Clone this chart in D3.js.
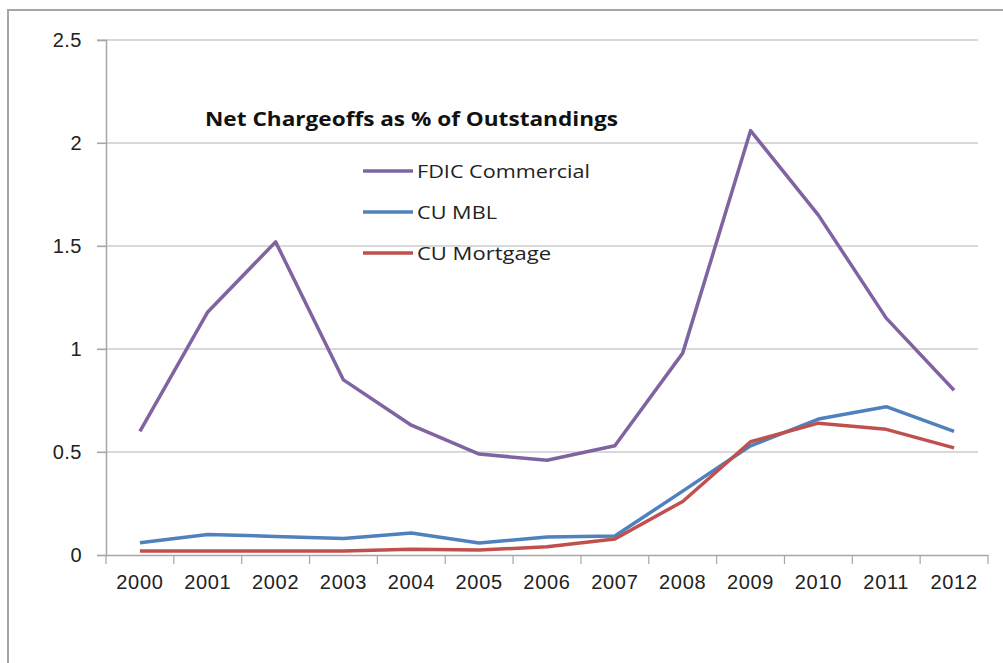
<!DOCTYPE html>
<html>
<head>
<meta charset="utf-8">
<script src="https://cdn.jsdelivr.net/npm/d3@7"></script>
<style>
  body { margin: 0; background: #fff; }
  svg { font-family: "Open Sans", Lato, sans-serif; }
</style>
</head>
<body>
<svg id="chart" width="1003" height="663"></svg>
<script>
// data
var years = ["2000", "2001", "2002", "2003", "2004", "2005", "2006", "2007", "2008", "2009", "2010", "2011", "2012"];
var fdicCommercial = [0.6, 1.18, 1.52, 0.85, 0.63, 0.49, 0.46, 0.53, 0.98, 2.06, 1.65, 1.15, 0.8];
var cuMbl = [0.06, 0.1, 0.09, 0.08, 0.107, 0.058, 0.087, 0.092, 0.31, 0.53, 0.66, 0.72, 0.6];
var cuMortgage = [0.02, 0.02, 0.02, 0.02, 0.028, 0.024, 0.04, 0.078, 0.26, 0.55, 0.64, 0.61, 0.52];
var yTicks = [0, 0.5, 1, 1.5, 2, 2.5];

var series = [
    {name: "FDIC Commercial", values: fdicCommercial, color: "#8064a2", width: 173},
    {name: "CU MBL", values: cuMbl, color: "#4f81bd", width: 80},
    {name: "CU Mortgage", values: cuMortgage, color: "#c0504d", width: 134}
];

var svg = d3.select("#chart");

// outer frame
svg.append("rect")
    .attr("x", 8).attr("y", 10)
    .attr("width", 1010).attr("height", 680)
    .attr("fill", "none")
    .attr("stroke", "#a6a6a6")
    .attr("stroke-width", 2);

var padding = {left: 106, right: 988, top: 40, bottom: 555};

var x = d3.scaleBand()
    .domain(years)
    .range([padding.left, padding.right]);
var y = d3.scaleLinear()
    .domain([0, 2.5])
    .range([padding.bottom, padding.top]);

// gridlines
svg.append("g")
    .selectAll("line")
    .data(yTicks.filter(function(d) { return d > 0; }))
    .enter().append("line")
    .attr("x1", padding.left - 9)
    .attr("x2", 978)
    .attr("y1", function(d) { return y(d); })
    .attr("y2", function(d) { return y(d); })
    .attr("stroke", "#b3b3b3")
    .attr("stroke-width", 1.2);

// y axis
var yAxis = svg.append("g")
    .attr("transform", "translate(" + padding.left + ",0)")
    .call(d3.axisLeft(y).tickValues(yTicks).tickSize(9).tickPadding(15)
        .tickFormat(function(d) { return d; }));
yAxis.select(".domain").attr("stroke", "#a6a6a6").attr("stroke-width", 1.5);
yAxis.selectAll(".tick line").attr("stroke", "#a6a6a6").attr("stroke-width", 1.2);
yAxis.selectAll("text")
    .attr("font-size", 20)
    .attr("letter-spacing", 0.5)
    .attr("fill", "#222");

// x axis
var xAxis = svg.append("g")
    .attr("transform", "translate(0," + padding.bottom + ")")
    .call(d3.axisBottom(x).tickSize(0).tickPadding(20));
xAxis.select(".domain").attr("stroke", "#a6a6a6").attr("stroke-width", 1.5);
xAxis.selectAll("text")
    .attr("font-size", 20)
    .attr("letter-spacing", 0.7)
    .attr("fill", "#222");

// category boundary ticks
var bounds = years.map(function(d) { return x(d); }).concat([padding.right]);
svg.append("g")
    .selectAll("line")
    .data(bounds)
    .enter().append("line")
    .attr("x1", function(d) { return d; })
    .attr("x2", function(d) { return d; })
    .attr("y1", padding.bottom)
    .attr("y2", padding.bottom + 9)
    .attr("stroke", "#a6a6a6")
    .attr("stroke-width", 1.2);

// lines
var line = d3.line()
    .x(function(d, i) { return x(years[i]) + x.bandwidth() / 2; })
    .y(function(d) { return y(d); });

svg.append("g")
    .selectAll("path")
    .data(series)
    .enter().append("path")
    .attr("d", function(s) { return line(s.values); })
    .attr("fill", "none")
    .attr("stroke", function(s) { return s.color; })
    .attr("stroke-width", 3.5)
    .attr("stroke-linejoin", "round");

// title
svg.append("text")
    .attr("x", 205).attr("y", 126)
    .attr("font-size", 19)
    .attr("font-weight", "bold")
    .attr("fill", "#111")
    .attr("textLength", 413)
    .attr("lengthAdjust", "spacingAndGlyphs")
    .text("Net Chargeoffs as % of Outstandings");

// legend
var legend = svg.append("g")
    .selectAll("g")
    .data(series)
    .enter().append("g")
    .attr("transform", function(d, i) { return "translate(363," + (171 + i * 41) + ")"; });
legend.append("line")
    .attr("x1", 0).attr("x2", 50)
    .attr("stroke", function(d) { return d.color; })
    .attr("stroke-width", 3.5);
legend.append("text")
    .attr("x", 54).attr("y", 7)
    .attr("font-size", 18)
    .attr("fill", "#222")
    .attr("textLength", function(d) { return d.width; })
    .attr("lengthAdjust", "spacingAndGlyphs")
    .text(function(d) { return d.name; });
</script>
</body>
</html>
